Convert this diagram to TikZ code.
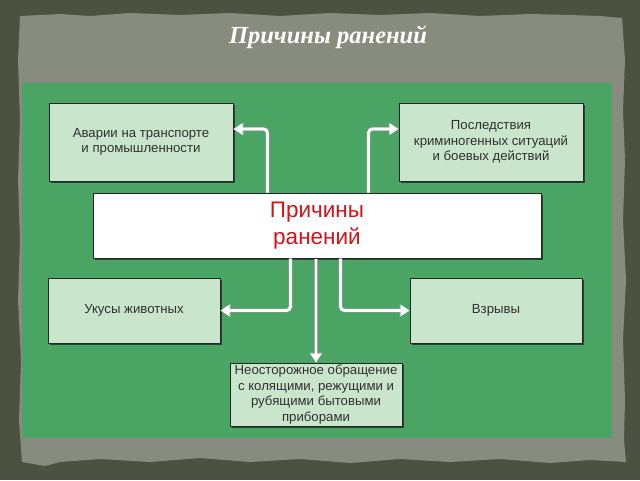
\documentclass[tikz,border=0pt]{standalone}
\usepackage{fontspec}
\setmainfont{Liberation Sans}
\newfontfamily\titlefont{Liberation Serif}
\usetikzlibrary{arrows.meta,shadows,calc}
\definecolor{outerc}{HTML}{4B5242}
\definecolor{paperc}{HTML}{878C7E}
\definecolor{greenc}{HTML}{4AA463}
\definecolor{boxc}{HTML}{C9E6CD}
\definecolor{textc}{HTML}{303030}
\definecolor{redc}{HTML}{D0141A}
\tikzset{
  box/.style={draw=black!85, line width=1pt, fill=boxc, align=center,
    text=textc, font=\fontsize{13.2}{15.5}\selectfont, inner sep=2pt,
    drop shadow={shadow xshift=1.6pt, shadow yshift=-1.6pt, opacity=0.55, fill=black}},
  mainbox/.style={box, fill=white, text=redc, font=\fontsize{22.5}{26.5}\selectfont},
  conn/.style={draw=white, line width=2.8pt, rounded corners=4pt,
    -{Triangle[width=11pt,length=9pt,fill=white]},
    preaction={draw=black!35, line width=3.8pt, -{Triangle[width=12.5pt,length=10pt,fill=black!35]}}}
}
\begin{document}
\begin{tikzpicture}[x=1pt,y=-1pt]
\fill[outerc] (0,0) rectangle (640,480);
\useasboundingbox (0,0) rectangle (640,480);
\fill[paperc] (20,16) -- (60,14) -- (90,16) -- (130,13) -- (180,15) -- (230,13) -- (280,16) -- (330,13) -- (380,15) -- (430,13) -- (480,16) -- (530,14) -- (570,15) -- (600,16) -- (622,18)
  -- (625,60) -- (623,110) -- (625,160) -- (623,220) -- (626,280) -- (623,340) -- (625,400) -- (624,440) -- (626,462)
  -- (590,460) -- (550,463) -- (500,459) -- (450,462) -- (400,459) -- (350,463) -- (300,459) -- (250,462) -- (200,458) -- (150,462) -- (100,459) -- (60,462) -- (45,466) -- (22,462)
  -- (19,420) -- (21,360) -- (18,300) -- (20,240) -- (18,180) -- (20,120) -- (18,60) -- cycle;
\fill[greenc] (22,83) rectangle (612,438);
\node[font=\titlefont\bfseries\itshape\fontsize{24.5}{28}\selectfont, text=white] (title) at (328,37) {Причины ранений};
\node[box, minimum width=184pt, minimum height=78pt] (a) at (141,142) {\raisebox{-2pt}{\parbox{180pt}{\centering Аварии на транспорте\\и промышленности}}};
\node[box, minimum width=184pt, minimum height=78pt] (b) at (491,142) {Последствия\\криминогенных ситуаций\\и боевых действий};
\node[mainbox, minimum width=448pt, minimum height=65pt] (c) at (317,225.5) {\raisebox{-2.5pt}{\parbox{300pt}{\centering Причины\\ранений}}};
\node[box, minimum width=172pt, minimum height=65pt] (u) at (134,310.5) {Укусы животных};
\node[box, minimum width=172pt, minimum height=65pt] (v) at (496,310.5) {\raisebox{2.5pt}{Взрывы}};
\node[box, minimum width=172pt, minimum height=63pt, inner sep=1pt] (n) at (316,394.5) {Неосторожное обращение\\с колящими, режущими и\\рубящими бытовыми\\приборами};
\path[conn] ($(c.north west)+(175,0)$) |- ($(a.east)+(0,-13)$);
\path[conn] ($(c.north west)+(276,0)$) |- ($(b.west)+(0,-13)$);
\path[conn] ($(c.south west)+(198,0)$) |- (u.east);
\path[conn] ($(c.south west)+(248,0)$) |- (v.west);
\path[conn] (c.south -| n.north) -- (n.north);
\end{tikzpicture}
\end{document}
